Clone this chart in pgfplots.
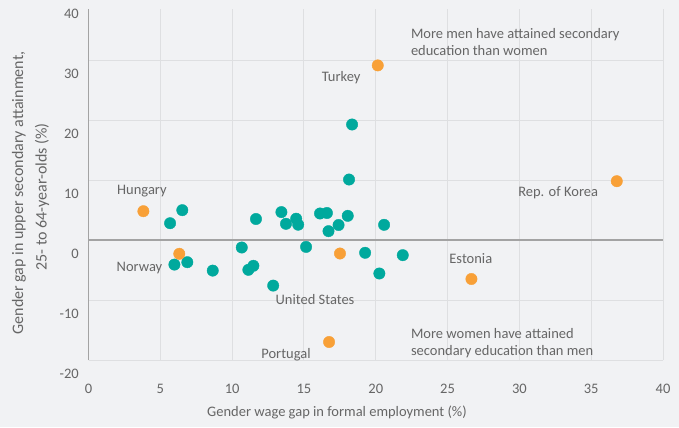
\documentclass[border=0pt]{standalone}
\usepackage{pgfplots}
\pgfplotsset{compat=1.18}
\usepackage{fontspec}
\setmainfont{Carlito}
\definecolor{bg}{HTML}{F1F2F4}
\definecolor{myteal}{HTML}{00A99D}
\definecolor{myorange}{HTML}{F8A037}
\definecolor{txt}{HTML}{666666}
\definecolor{gridc}{HTML}{DEDFE1}
\definecolor{axc}{HTML}{A3A3A3}
\newcommand{\fs}{\fontsize{14.5bp}{17bp}\selectfont}
\newcommand{\fy}{\fontsize{16bp}{18bp}\selectfont}
\begin{document}
\begin{tikzpicture}[x=1bp,y=1bp]
\fill[bg] (0,0) rectangle (679,427);
\node[rotate=90, text=txt, font=\fy] at (19,234) {Gender gap in upper secondary attainment,};
\node[rotate=90, text=txt, font=\fy] at (42,230) {25- to 64-year-olds (\%)};
\node[text=txt, font=\fs] at (337,15) {Gender wage gap in formal employment (\%)};
\begin{axis}[
  at={(88.5bp,67bp)}, anchor=south west,
  scale only axis, width=574.5bp, height=351bp,
  xmin=0, xmax=40, ymin=-20, ymax=38.5,
  xtick={0,5,...,40}, ytick={-20,-10,...,30},
  xticklabels={0,5,10,15,20,25,30,35,40},
  yticklabels={-20,-10,0,10,20,30},
  grid=major, major grid style={gridc, line width=0.9pt},
  axis lines=left, axis line style={-},
  x axis line style={gridc, line width=0.9pt},
  y axis line style={axc, line width=1.1pt},
  major tick length=0pt,
  ticklabel style={font=\fs, text=txt, inner sep=0pt},
  xticklabel style={anchor=base, yshift=-33bp},
  yticklabel style={anchor=east, xshift=-9.5bp, yshift=-14bp},
  clip=false,
]
\draw[axc, line width=1.1pt] (axis cs:0,0) -- (axis cs:40,0);
\node[anchor=east, inner sep=0pt, font=\fs, text=txt] at ([xshift=-9.5bp, yshift=-14bp]axis cs:0,40) {40};
\addplot[only marks, mark=*, mark size=5.7bp, color=myteal] coordinates {
(5.68,2.8) (6.53,4.97) (5.98,-4.1) (6.88,-3.7) (8.65,-5.1) (10.67,-1.25)
(11.13,-4.97) (11.48,-4.3) (11.66,3.5) (12.86,-7.6) (13.43,4.65) (13.75,2.7)
(14.46,3.55) (14.6,2.55) (15.15,-1.15) (16.12,4.42) (16.6,4.5) (16.71,1.47)
(17.41,2.5) (18.05,4.03) (18.35,19.25) (18.14,10.08) (19.26,-2.13) (20.25,-5.58)
(20.58,2.53) (21.88,-2.53)
};
\addplot[only marks, mark=*, mark size=5.7bp, color=myorange] coordinates {
(3.82,4.8) (6.32,-2.3) (16.75,-17.0) (20.14,29.1) (36.78,9.8) (26.66,-6.5) (17.51,-2.25)
};
\node[text=txt, font=\fs] at (axis cs:17.59,27.1) {Turkey};
\node[text=txt, font=\fs] at (axis cs:3.72,8.1) {Hungary};
\node[text=txt, font=\fs] at (axis cs:3.55,-4.6) {Norway};
\node[text=txt, font=\fs] at (axis cs:15.77,-9.9) {United States};
\node[text=txt, font=\fs] at (axis cs:13.75,-19.1) {Portugal};
\node[text=txt, font=\fs] at (axis cs:26.62,-3.1) {Estonia};
\node[text=txt, font=\fs] at (axis cs:32.7,7.9) {Rep. of Korea};
\node[text=txt, font=\fs, align=left, anchor=west, inner sep=0pt] at (axis cs:22.44,33.0) {More men have attained secondary\\education than women};
\node[text=txt, font=\fs, align=left, anchor=west, inner sep=0pt] at (axis cs:22.44,-17.2) {More women have attained\\secondary education than men};
\end{axis}
\end{tikzpicture}
\end{document}
